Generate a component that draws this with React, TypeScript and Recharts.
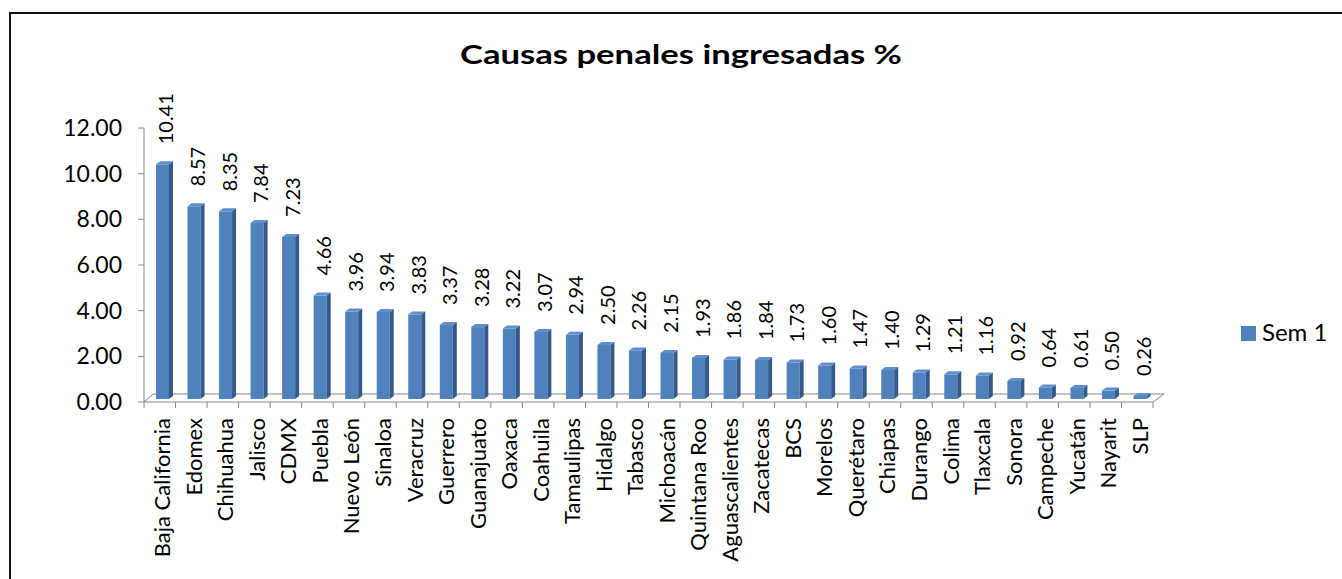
import { BarChart, Bar, XAxis, YAxis, LabelList } from 'recharts';

const estados = [
  'Baja California', 'Edomex', 'Chihuahua', 'Jalisco', 'CDMX', 'Puebla', 'Nuevo León', 'Sinaloa',
  'Veracruz', 'Guerrero', 'Guanajuato', 'Oaxaca', 'Coahuila', 'Tamaulipas', 'Hidalgo', 'Tabasco',
  'Michoacán', 'Quintana Roo', 'Aguascalientes', 'Zacatecas', 'BCS', 'Morelos', 'Querétaro',
  'Chiapas', 'Durango', 'Colima', 'Tlaxcala', 'Sonora', 'Campeche', 'Yucatán', 'Nayarit', 'SLP',
];

const sem1 = [
  10.41, 8.57, 8.35, 7.84, 7.23, 4.66, 3.96, 3.94, 3.83, 3.37, 3.28, 3.22, 3.07, 2.94, 2.5, 2.26,
  2.15, 1.93, 1.86, 1.84, 1.73, 1.6, 1.47, 1.4, 1.29, 1.21, 1.16, 0.92, 0.64, 0.61, 0.5, 0.26,
];

const yTicks = [0, 2, 4, 6, 8, 10, 12];

const data = estados.map((estado, i) => ({ estado, sem1: sem1[i] }));

const FONT = 'Lato, "Open Sans", sans-serif';
const AXIS_GRAY = '#868686';

// chart geometry (page coords, chart is placed at 0,0)
const W = 1342;
const H = 579;
const PLOT_LEFT = 144;
const PLOT_RIGHT = 1153;
const PLOT_TOP = 128;
const PLOT_BOTTOM = 402;
const BAND = (PLOT_RIGHT - PLOT_LEFT) / estados.length;
const DX = 11;
const DY = 8;

function Bar3D(props: any) {
  const { x, y, width, height } = props;
  if (height <= 0) return null;
  const fx = x + 3;
  const top = y;
  const bottom = y + height - 3;
  const d = 4;
  const u = 3;
  return (
    <g>
      <rect x={fx} y={top} width={width} height={bottom - top} fill="#4F81BD" />
      <polygon
        points={`${fx + width},${top} ${fx + width + d},${top - u} ${fx + width + d},${bottom - u} ${fx + width},${bottom}`}
        fill="#34598A"
      />
      <polygon
        points={`${fx},${top} ${fx + width},${top} ${fx + width + d},${top - u} ${fx + d},${top - u}`}
        fill="#5E8FCB"
      />
    </g>
  );
}

function ValueLabel(props: any) {
  const { x, y, width, value } = props;
  const cx = x + width / 2 + 6;
  const cy = y - 20;
  return (
    <text
      x={cx}
      y={cy}
      transform={`rotate(-90 ${cx} ${cy})`}
      textAnchor="start"
      dominantBaseline="central"
      fontSize={20}
      fontFamily={FONT}
      fill="#000"
    >
      {Number(value).toFixed(2)}
    </text>
  );
}

function CatTick(props: any) {
  const { x, payload, index } = props;
  const left = x - BAND / 2;
  const tx = x + 2;
  const ty = PLOT_BOTTOM + 16;
  return (
    <g>
      <line x1={left} y1={PLOT_BOTTOM} x2={left} y2={PLOT_BOTTOM + 6} stroke={AXIS_GRAY} />
      {index === estados.length - 1 && (
        <line x1={left + BAND} y1={PLOT_BOTTOM} x2={left + BAND} y2={PLOT_BOTTOM + 6} stroke={AXIS_GRAY} />
      )}
      <text
        x={tx}
        y={ty}
        transform={`rotate(-90 ${tx} ${ty})`}
        textAnchor="end"
        dominantBaseline="central"
        fontSize={22}
        fontFamily={FONT}
        fill="#000"
      >
        {payload.value}
      </text>
    </g>
  );
}

function Decor() {
  return (
    <svg width={W} height={H} style={{ position: 'absolute', left: 0, top: 0 }}>
      <text
        x={681}
        y={64}
        textAnchor="middle"
        fontFamily={FONT}
        fontWeight="bold"
        fontSize={27}
        textLength={442}
        lengthAdjust="spacingAndGlyphs"
        fill="#000"
      >
        Causas penales ingresadas %
      </text>
      <line x1={PLOT_LEFT} y1={PLOT_BOTTOM} x2={PLOT_LEFT + DX - 2} y2={PLOT_BOTTOM - DY} stroke={AXIS_GRAY} />
      <line x1={PLOT_LEFT + DX - 2} y1={PLOT_BOTTOM - DY} x2={PLOT_RIGHT + DX} y2={PLOT_BOTTOM - DY} stroke={AXIS_GRAY} />
      <line x1={PLOT_RIGHT} y1={PLOT_BOTTOM} x2={PLOT_RIGHT + DX} y2={PLOT_BOTTOM - DY} stroke={AXIS_GRAY} />
      <rect x={1241} y={326} width={15} height={15} fill="#4F81BD" />
      <text x={1262} y={341} fontFamily={FONT} fontSize={24} fill="#000">
        Sem 1
      </text>
    </svg>
  );
}

export default function App() {
  return (
    <div style={{ position: 'absolute', left: 0, top: 0, width: W, height: H, background: '#fff', overflow: 'hidden' }}>
      <div
        style={{
          position: 'absolute',
          left: 9,
          top: 12,
          width: W + 20,
          height: H + 20,
          borderLeft: '2px solid #111',
          borderTop: '2px solid #111',
        }}
      />
      <Decor />
      <div style={{ position: 'absolute', left: 0, top: 0 }}>
        <BarChart
          width={W}
          height={H}
          data={data}
          margin={{ top: PLOT_TOP, right: W - PLOT_RIGHT, bottom: 0, left: 0 }}
          barCategoryGap={0}
        >
          <XAxis
            dataKey="estado"
            interval={0}
            height={H - PLOT_BOTTOM}
            axisLine={{ stroke: AXIS_GRAY }}
            tickLine={false}
            tick={<CatTick />}
          />
          <YAxis
            width={PLOT_LEFT}
            domain={[0, 12]}
            ticks={yTicks}
            tickFormatter={(v: number) => v.toFixed(2)}
            axisLine={{ stroke: AXIS_GRAY }}
            tickLine={{ stroke: AXIS_GRAY }}
            tickSize={6}
            tickMargin={16}
            tick={{ fontSize: 23, fontFamily: FONT, fill: '#000' }}
          />
          <Bar dataKey="sem1" name="Sem 1" barSize={13} shape={<Bar3D />} isAnimationActive={false}>
            <LabelList dataKey="sem1" content={<ValueLabel />} />
          </Bar>
        </BarChart>
      </div>
    </div>
  );
}
